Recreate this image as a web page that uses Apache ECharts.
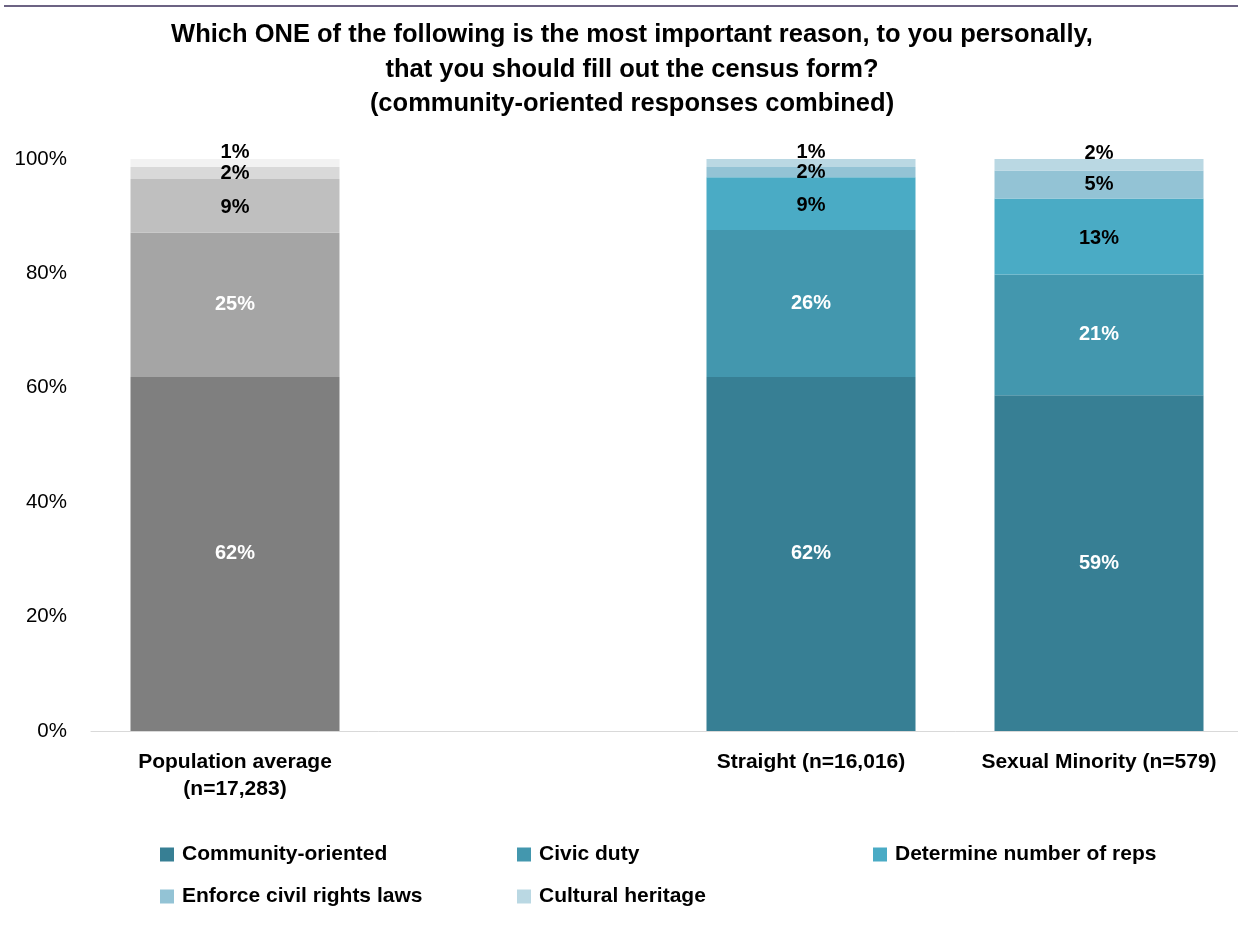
<!DOCTYPE html>
<html>
<head>
<meta charset="utf-8">
<script src="https://cdn.jsdelivr.net/npm/echarts@6/dist/echarts.min.js"></script>
<style>html,body{margin:0;padding:0;background:#fff;overflow:hidden}#c{width:1250px;height:939px}</style>
</head>
<body>
<div id="c"></div>
<script>
const titleLines = ['Which ONE of the following is the most important reason, to you personally,', 'that you should fill out the census form?', '(community-oriented responses combined)'];
const categories = ['Population average\n(n=17,283)', '', 'Straight (n=16,016)', 'Sexual Minority (n=579)'];
const seriesNames = ['Community-oriented', 'Civic duty', 'Determine number of reps', 'Enforce civil rights laws', 'Cultural heritage'];
const communityOriented = [61.9, null, 61.9, 58.7];
const civicDuty = [25.2, null, 25.7, 21.1];
const determineReps = [9.4, null, 9.2, 13.3];
const enforceCivilRights = [2.1, null, 1.8, 4.9];
const culturalHeritage = [1.4, null, 1.4, 2.0];
const yTicks = [0, 20, 40, 60, 80, 100];

const tealColors = ['#377f94', '#4397ae', '#4aabc5', '#93c3d5', '#bad8e3'];
const greyColors = ['#7f7f7f', '#a5a5a5', '#bfbfbf', '#d9d9d9', '#f2f2f2'];
const labelColors = ['#ffffff', '#ffffff', '#000000', '#000000', '#000000'];
const labelOffsets = [[0,0],[0,0],[0,2],[0,0],[0,-11]];
const allData = [communityOriented, civicDuty, determineReps, enforceCivilRights, culturalHeritage];

const FONT = '"Liberation Sans", Arial, sans-serif';

const series = seriesNames.map((name, si) => ({
  name: name,
  type: 'bar',
  stack: 'total',
  barWidth: 209,
  color: tealColors[si],
  data: allData[si].map((v, ci) => ci === 0 ? {value: v, itemStyle: {color: greyColors[si]}} : v),
  label: {
    show: true,
    position: 'inside',
    offset: labelOffsets[si],
    color: labelColors[si],
    fontFamily: FONT,
    fontWeight: 'bold',
    fontSize: 20,
    formatter: p => (p.value == null ? '' : Math.round(p.value) + '%')
  }
}));

const legendPos = [[155, 839], [512, 839], [868, 839], [155, 881], [512, 881]];
const legends = seriesNames.map((n, i) => ({
  data: [n],
  left: legendPos[i][0],
  top: legendPos[i][1],
  itemWidth: 14,
  itemHeight: 14,
  itemGap: 0,
  icon: 'rect',
  selectedMode: false,
  textStyle: {fontFamily: FONT, fontWeight: 'bold', fontSize: 21, color: '#000', padding: [0,0,0,3]}
}));

const chart = echarts.init(document.getElementById('c'), null, {renderer: 'canvas'});
chart.setOption({
  animation: false,
  backgroundColor: '#ffffff',
  title: {
    text: titleLines.join('\n'),
    left: 627,
    textAlign: 'center',
    top: 13,
    textStyle: {fontFamily: FONT, fontWeight: 'bold', fontSize: 25.5, lineHeight: 34.5, color: '#000'}
  },
  graphic: [{
    type: 'line',
    shape: {x1: 4, y1: 6, x2: 1250, y2: 6},
    style: {stroke: '#3b2f5a', lineWidth: 1.5}
  }],
  legend: legends,
  grid: {left: 91, width: 1152, top: 159, bottom: 208, containLabel: false},
  xAxis: {
    type: 'category',
    data: categories,
    axisLine: {lineStyle: {color: '#d9d9d9', width: 1}},
    axisTick: {show: false},
    axisLabel: {fontFamily: FONT, fontWeight: 'bold', fontSize: 21, color: '#000', margin: 18, lineHeight: 27, interval: 0}
  },
  yAxis: {
    type: 'value',
    min: 0, max: 100, interval: 20,
    axisLine: {show: false},
    axisTick: {show: false},
    splitLine: {show: false},
    axisLabel: {fontFamily: FONT, fontSize: 20.5, color: '#000', margin: 24, formatter: v => v + '%'}
  },
  series: series
});
</script>
</body>
</html>
